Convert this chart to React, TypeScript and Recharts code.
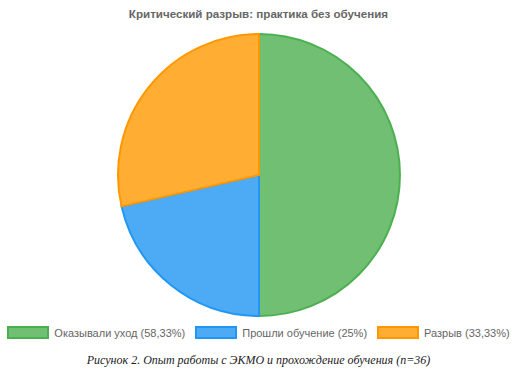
import { PieChart, Pie, Cell } from 'recharts';

const categories = ['Оказывали уход', 'Прошли обучение', 'Разрыв'];
const counts = [21, 9, 12];
const percentLabels = ['58,33%', '25%', '33,33%'];
const fills = ['#70bf73', '#4dabf5', '#ffad33'];
const strokes = ['#4caf50', '#2196f3', '#ff9800'];

const data = categories.map((name, i) => ({ name, value: counts[i] }));

const font = '"Liberation Sans", Arial, Helvetica, sans-serif';

const App = () => {
    return (
        <div style={{ position: 'absolute', left: 0, top: 0, width: 517, height: 378, background: '#fff' }}>
            <div style={{ position: 'absolute', top: 7, left: 0, width: 517, textAlign: 'center', fontFamily: font, fontWeight: 'bold', fontSize: 11.6, color: '#666' }}>
                Критический разрыв: практика без обучения
            </div>
            <div style={{ position: 'absolute', top: 0, left: 0 }}>
                <PieChart width={517} height={322} margin={{ top: 0, right: 0, bottom: 0, left: 0 }}>
                    <Pie
                        data={data}
                        dataKey="value"
                        nameKey="name"
                        cx={259}
                        cy={175}
                        outerRadius={141}
                        startAngle={90}
                        endAngle={-270}
                        strokeWidth={2}
                        isAnimationActive={false}
                    >
                        {data.map((d, i) => (
                            <Cell key={d.name} fill={fills[i]} stroke={strokes[i]} />
                        ))}
                    </Pie>
                </PieChart>
            </div>
            <div style={{ position: 'absolute', top: 326, left: 0, width: 517, display: 'flex', justifyContent: 'center', alignItems: 'center', fontFamily: font, fontSize: 11, color: '#666', whiteSpace: 'nowrap' }}>
                {categories.map((name, i) => (
                    <div key={name} style={{ display: 'flex', alignItems: 'center', marginRight: i < categories.length - 1 ? 10 : 0 }}>
                        <span style={{ display: 'inline-block', width: 38, height: 9, background: fills[i], border: `2px solid ${strokes[i]}`, marginRight: 5 }} />
                        <span>{`${name} (${percentLabels[i]})`}</span>
                    </div>
                ))}
            </div>
            <div style={{ position: 'absolute', top: 353, left: 0, width: 517, textAlign: 'center', fontFamily: '"Liberation Serif", "Times New Roman", serif', fontStyle: 'italic', fontSize: 12, color: '#222' }}>
                Рисунок 2. Опыт работы с ЭКМО и прохождение обучения (n=36)
            </div>
        </div>
    );
};

export default App;
